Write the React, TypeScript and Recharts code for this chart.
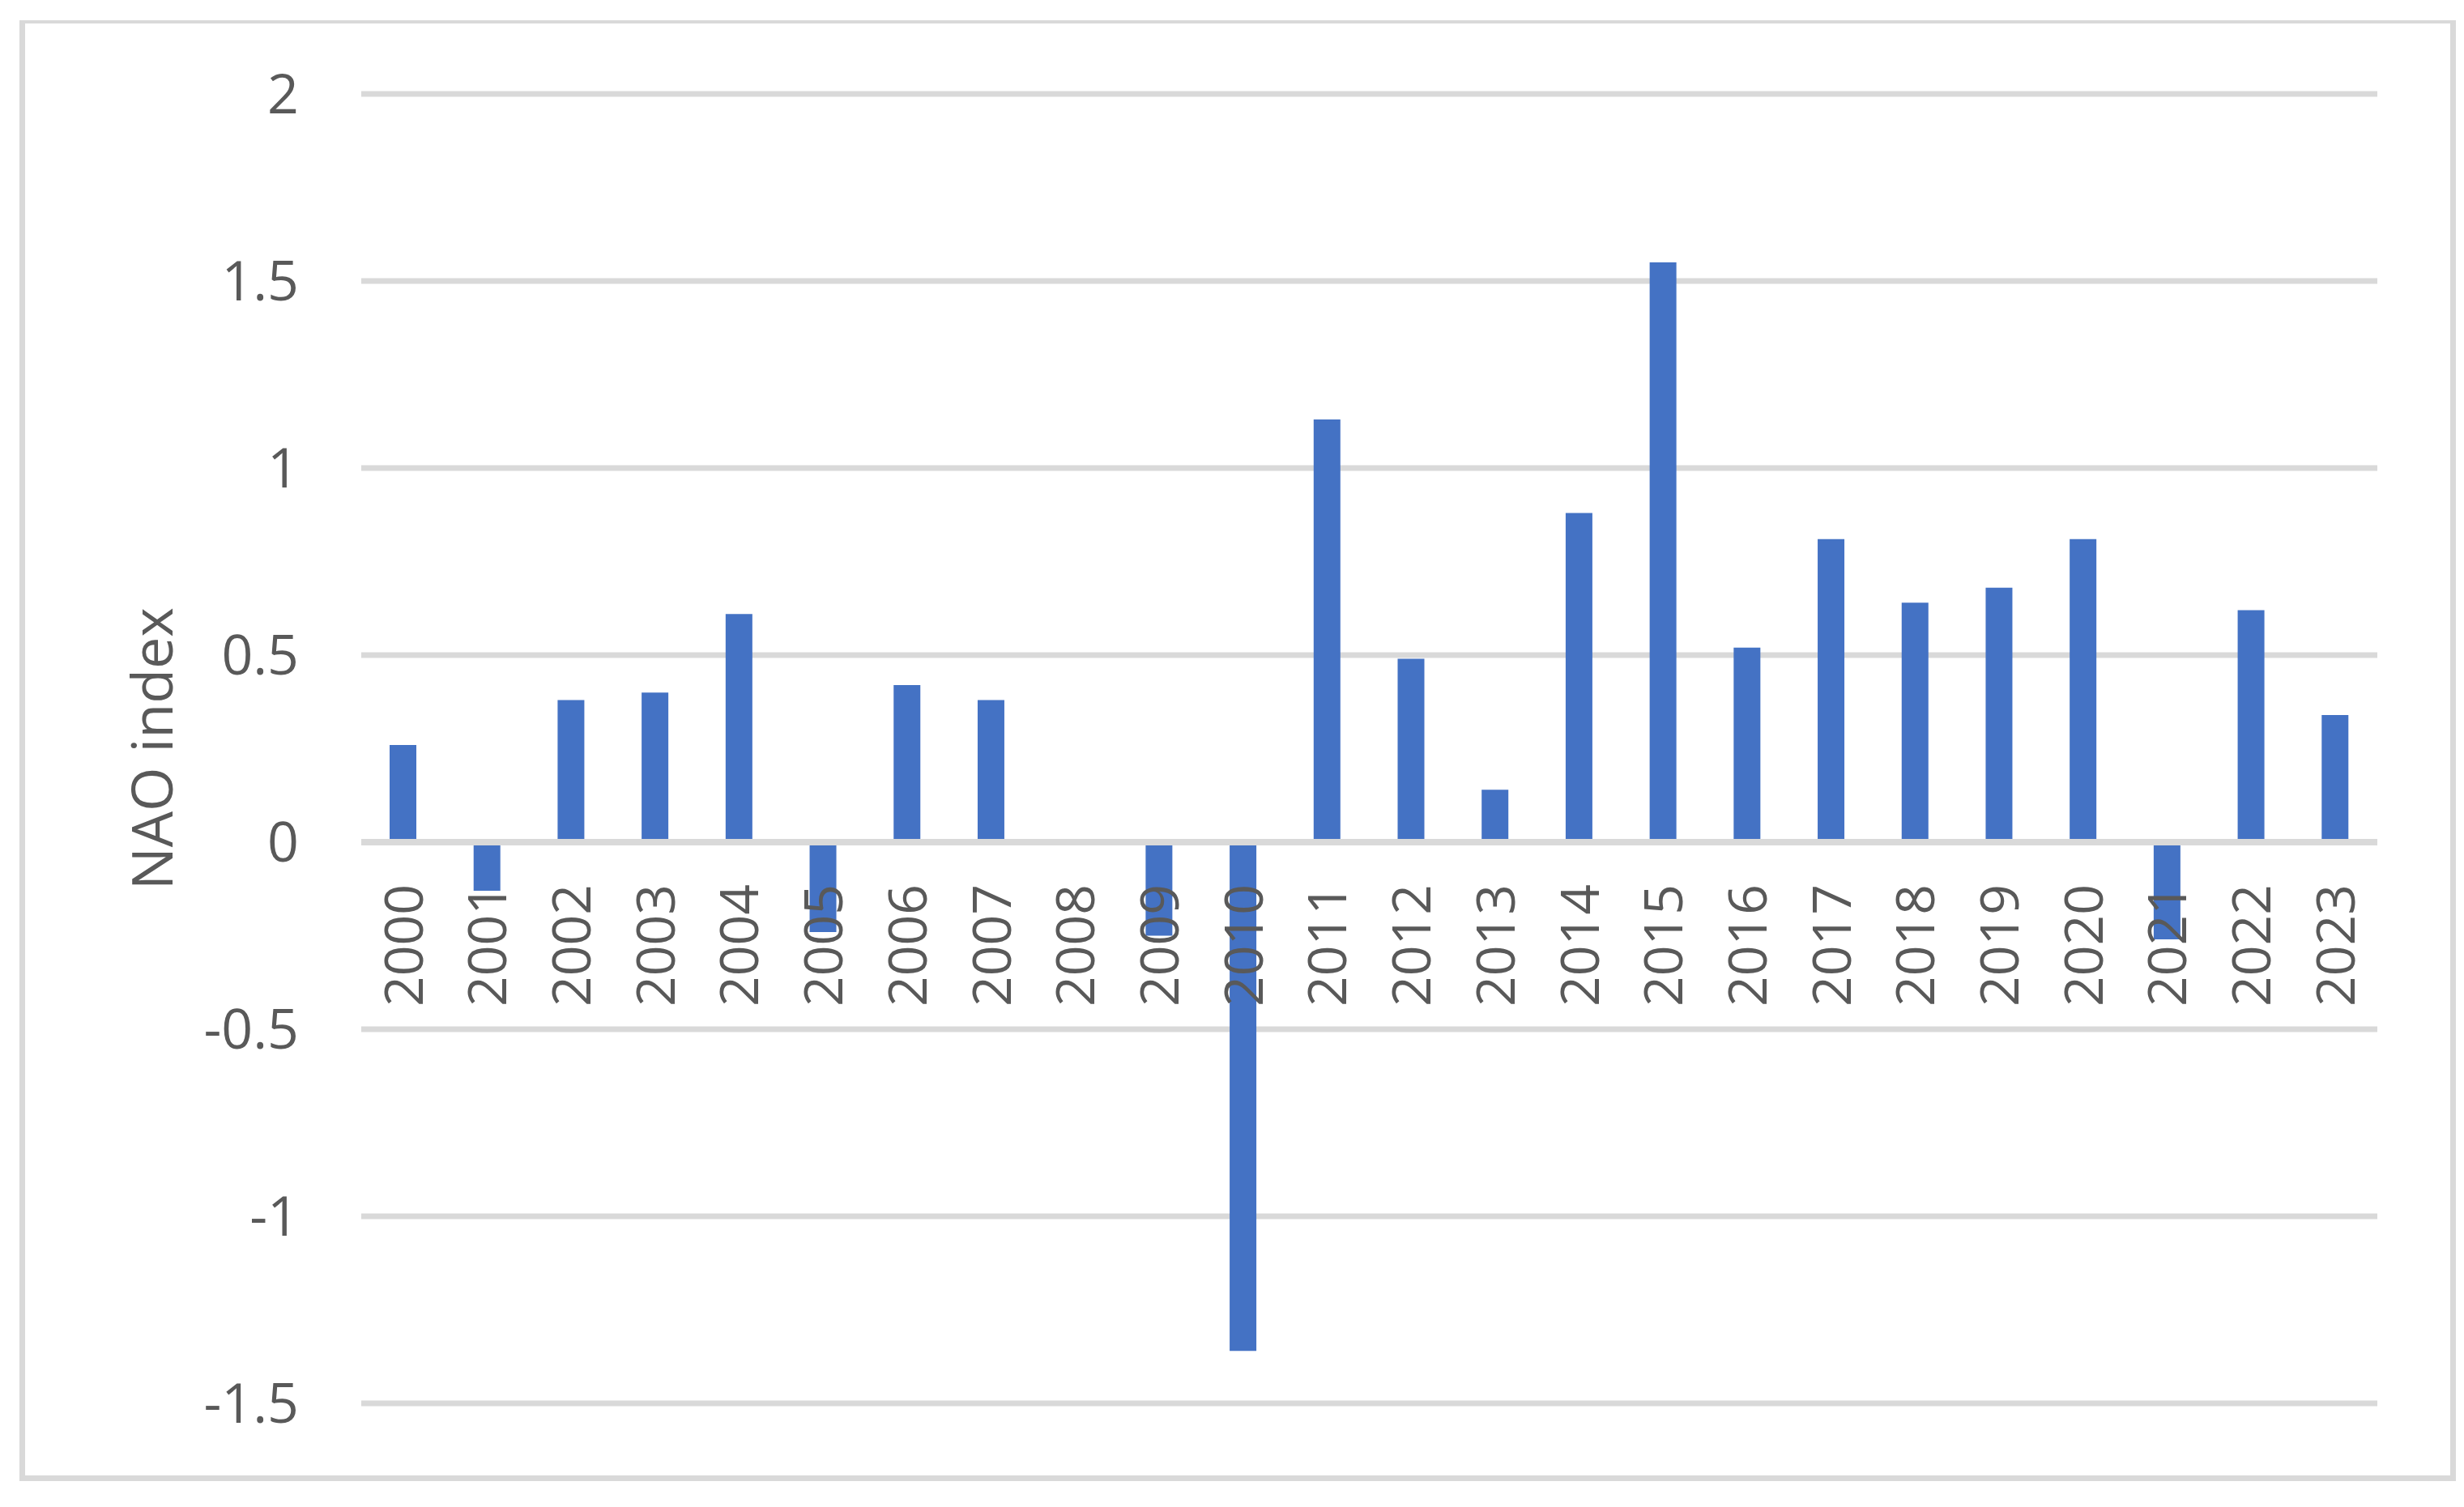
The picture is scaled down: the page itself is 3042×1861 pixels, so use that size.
import { Bar, BarChart, CartesianGrid, ReferenceLine, XAxis, YAxis } from "recharts";

const YEARS = [
  "2000", "2001", "2002", "2003", "2004", "2005", "2006", "2007", "2008", "2009", "2010", "2011",
  "2012", "2013", "2014", "2015", "2016", "2017", "2018", "2019", "2020", "2021", "2022", "2023",
];
const NAO = [
  0.26, -0.13, 0.38, 0.4, 0.61, -0.24, 0.42, 0.38, 0, -0.25, -1.36, 1.13,
  0.49, 0.14, 0.88, 1.55, 0.52, 0.81, 0.64, 0.68, 0.81, -0.26, 0.62, 0.34,
];
const Y_TICKS = [-1.5, -1, -0.5, 0, 0.5, 1, 1.5, 2];
const Y_DOMAIN: [number, number] = [-1.5, 2];

const W = 3042;
const H = 1861;
const X_AXIS_H = 1;
const MARGIN = { top: 116, right: 107, bottom: 127, left: 0 };
const FONT = "'Open Sans', 'Noto Sans', sans-serif";
const TEXT = "#595959";
const GRID = "#d9d9d9";
const BAR = "#4472C4";

const rows = YEARS.map((year, i) => ({ year, nao: NAO[i] }));

// category labels hang under the zero line (Excel style), not under the plot
const plotH = H - MARGIN.top - MARGIN.bottom - X_AXIS_H;
const zeroY = MARGIN.top + (Y_DOMAIN[1] / (Y_DOMAIN[1] - Y_DOMAIN[0])) * plotH;

function YearTick({ x, payload }: any) {
  const y = zeroY + 52;
  return (
    <text
      x={x}
      y={y}
      dy="0.36em"
      transform={`rotate(-90 ${x} ${y})`}
      textAnchor="end"
      fill={TEXT}
      fontSize={66}
      fontFamily={FONT}
    >
      {payload.value}
    </text>
  );
}

function YTitle({ viewBox }: any) {
  const cx = 188;
  const cy = viewBox.y + viewBox.height / 2;
  return (
    <text
      x={cx}
      y={cy}
      dy="0.36em"
      transform={`rotate(-90 ${cx} ${cy})`}
      textAnchor="middle"
      fill={TEXT}
      fontSize={70}
      fontFamily={FONT}
    >
      NAO index
    </text>
  );
}

export default function App() {
  return (
    <div style={{ position: "absolute", left: 0, top: 0, width: W, height: H, background: "#fff" }}>
      <div
        style={{
          position: "absolute",
          left: 24,
          top: 25,
          width: 3008,
          height: 1804,
          borderStyle: "solid",
          borderColor: GRID,
          borderWidth: "4px 7px 7px 7px",
          boxSizing: "border-box",
        }}
      />
      <div style={{ position: "absolute", left: 0, top: 0 }}>
        <BarChart width={W} height={H} data={rows} margin={MARGIN}>
          <CartesianGrid vertical={false} stroke={GRID} strokeWidth={7} />
          <XAxis
            dataKey="year"
            height={X_AXIS_H}
            axisLine={false}
            tickLine={false}
            interval={0}
            tick={<YearTick />}
          />
          <YAxis
            domain={Y_DOMAIN}
            ticks={Y_TICKS}
            width={446}
            axisLine={false}
            tickLine={false}
            tickSize={0}
            tickMargin={77}
            tick={{ fill: TEXT, fontSize: 68, fontFamily: FONT }}
            label={<YTitle />}
          />
          <Bar dataKey="nao" fill={BAR} barSize={33} isAnimationActive={false} />
          <ReferenceLine y={0} stroke={GRID} strokeWidth={8} />
        </BarChart>
      </div>
    </div>
  );
}
